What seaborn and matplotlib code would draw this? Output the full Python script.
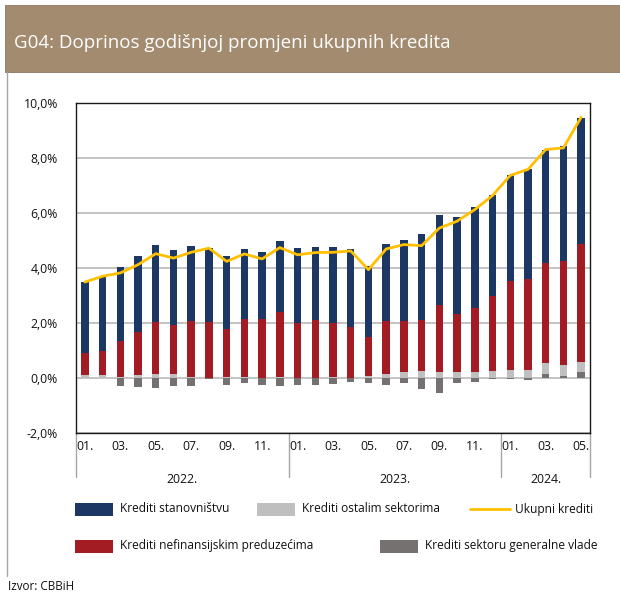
import numpy as np
import pandas as pd
import seaborn as sns
import matplotlib.pyplot as plt
import matplotlib.transforms as mtransforms
from matplotlib.patches import Rectangle
from matplotlib.lines import Line2D

# PODACI (doprinos godišnjoj promjeni, p.p.)
months = ['01.2022', '02.2022', '03.2022', '04.2022', '05.2022', '06.2022',
          '07.2022', '08.2022', '09.2022', '10.2022', '11.2022', '12.2022',
          '01.2023', '02.2023', '03.2023', '04.2023', '05.2023', '06.2023',
          '07.2023', '08.2023', '09.2023', '10.2023', '11.2023', '12.2023',
          '01.2024', '02.2024', '03.2024', '04.2024', '05.2024']
households = [2.59, 2.67, 2.70, 2.75, 2.81, 2.72, 2.73, 2.67, 2.66, 2.53, 2.42, 2.59,
              2.72, 2.68, 2.76, 2.84, 2.59, 2.81, 2.93, 3.10, 3.28, 3.50, 3.69, 3.66,
              3.83, 4.00, 4.13, 4.18, 4.57]
companies = [0.81, 0.87, 1.29, 1.55, 1.89, 1.76, 2.04, 2.05, 1.73, 2.11, 2.14, 2.34,
             1.98, 2.08, 1.97, 1.83, 1.41, 1.92, 1.84, 1.85, 2.44, 2.11, 2.29, 2.72,
             3.25, 3.30, 3.62, 3.76, 4.30]
other_sectors = [0.10, 0.12, 0.06, 0.12, 0.15, 0.17, 0.04, 0.00, 0.06, 0.04, 0.01, 0.05,
                 0.02, 0.02, 0.03, 0.02, 0.08, 0.15, 0.24, 0.27, 0.21, 0.23, 0.24, 0.27,
                 0.28, 0.30, 0.39, 0.40, 0.33]
government = [0.00, 0.00, -0.27, -0.33, -0.34, -0.29, -0.27, -0.04, -0.23, -0.19, -0.23, -0.27,
              -0.25, -0.23, -0.22, -0.13, -0.16, -0.23, -0.19, -0.40, -0.52, -0.17, -0.15, -0.04,
              -0.02, -0.06, 0.16, 0.08, 0.24]
total = [3.49, 3.70, 3.82, 4.12, 4.52, 4.36, 4.57, 4.72, 4.24, 4.51, 4.33, 4.74,
         4.48, 4.56, 4.57, 4.62, 3.94, 4.69, 4.85, 4.81, 5.45, 5.70, 6.12, 6.63,
         7.36, 7.58, 8.30, 8.36, 9.47]
years = ['2022.', '2023.', '2024.']

df = pd.DataFrame({'MJESEC': months, 'STAN': households, 'PRED': companies,
                   'OSTALI': other_sectors, 'VLADA': government, 'UKUPNO': total})

# stacking
gov_pos = df['VLADA'].clip(lower=0)
b_ostali = gov_pos.values
b_pred = b_ostali + df['OSTALI'].values
b_stan = b_pred + df['PRED'].values

c_blue = '#1c3764'
c_red = '#a31c24'
c_light = '#bfbfbf'
c_dark = '#767171'
c_yellow = '#ffc000'
c_text = '#111111'

sns.set_style('white')
plt.rcParams['font.family'] = ['Open Sans', 'DejaVu Sans']

fig = plt.figure(figsize=(6.2, 5.98), dpi=100)
ax = fig.add_axes([76 / 620, 1 - 433.3 / 598, 514 / 620, 330.6 / 598])
ax.set_axisbelow(True)

bw = 0.42
sns.barplot(data=df, x='MJESEC', y='VLADA', color=c_dark, saturation=1, width=bw,
            errorbar=None, linewidth=0, ax=ax)
sns.barplot(data=df, x='MJESEC', y='OSTALI', color=c_light, saturation=1, width=bw,
            errorbar=None, linewidth=0, bottom=b_ostali, ax=ax)
sns.barplot(data=df, x='MJESEC', y='PRED', color=c_red, saturation=1, width=bw,
            errorbar=None, linewidth=0, bottom=b_pred, ax=ax)
sns.barplot(data=df, x='MJESEC', y='STAN', color=c_blue, saturation=1, width=bw,
            errorbar=None, linewidth=0, bottom=b_stan, ax=ax)
sns.lineplot(x=np.arange(len(df)), y=df['UKUPNO'], color=c_yellow, linewidth=2.0,
             sort=False, ax=ax)

ax.set_xlim(-0.5, len(df) - 0.5)
ax.set_ylim(-2, 10)
ax.set_yticks(np.arange(-2, 10.1, 2))
ax.set_yticklabels([('%.1f%%' % v).replace('.', ',') for v in np.arange(-2, 10.1, 2)])
ax.yaxis.grid(True, color='#b3b3b3', linewidth=1.1)
ax.xaxis.grid(False)
ax.set_xticks(range(0, len(df), 2))
ax.set_xticklabels([months[i][:3] for i in range(0, len(df), 2)])
ax.tick_params(axis='both', length=0, labelsize=8.8, colors=c_text)
ax.tick_params(axis='y', pad=13)
ax.tick_params(axis='x', pad=5)
ax.set_xlabel('')
ax.set_ylabel('')
for s in ax.spines.values():
    s.set_color('#1a1a1a')
    s.set_linewidth(1.0)

# year separators and labels
trans = mtransforms.blended_transform_factory(ax.transData, ax.transAxes)
for xs in [-0.5, 11.5, 23.5, len(df) - 0.5]:
    ax.plot([xs, xs], [0, -0.133], transform=trans, color='#a6a6a6', lw=1.0, clip_on=False)
for yr, (a, b) in zip(years, [(-0.5, 11.5), (11.5, 23.5), (23.5, len(df) - 0.5)]):
    ax.text((a + b) / 2, -0.139, yr, transform=trans, ha='center', va='center',
            fontsize=8.8, color=c_text)

# banner
fig.patches.append(Rectangle((5 / 620, 1 - 72 / 598), 615 / 620, 67 / 598,
                             transform=fig.transFigure, facecolor='#a38b70',
                             edgecolor='#8a7862', linewidth=0.6))
fig.text(14 / 620, 1 - 43 / 598, 'G04: Doprinos godišnjoj promjeni ukupnih kredita',
         color='white', fontsize=13.5, va='center', ha='left')
fig.lines.append(Line2D([7 / 620, 7 / 620], [1 - 72 / 598, 1 - 576 / 598],
                        transform=fig.transFigure, color='#a6a6a6', lw=1.0))

# legend
def leg_patch(x, y, color, label):
    fig.patches.append(Rectangle((x / 620, 1 - (y + 6.5) / 598), 38 / 620, 13 / 598,
                                 transform=fig.transFigure, facecolor=color, edgecolor='none'))
    fig.text((x + 45) / 620, 1 - y / 598, label, fontsize=8.6, va='center', ha='left',
             color=c_text)

leg_patch(75, 509, c_blue, 'Krediti stanovništvu')
leg_patch(257, 509, c_light, 'Krediti ostalim sektorima')
fig.lines.append(Line2D([470 / 620, 510 / 620], [1 - 509 / 598, 1 - 509 / 598],
                        transform=fig.transFigure, color=c_yellow, lw=2.0))
fig.text(515 / 620, 1 - 509 / 598, 'Ukupni krediti', fontsize=8.6, va='center', ha='left',
         color=c_text)
leg_patch(75, 546, c_red, 'Krediti nefinansijskim preduzećima')
leg_patch(380, 546, c_dark, 'Krediti sektoru generalne vlade')

fig.text(8 / 620, 1 - 587 / 598, 'Izvor: CBBiH', fontsize=8.4, va='center', ha='left',
         color=c_text)

plt.savefig('out.png', dpi=100)
